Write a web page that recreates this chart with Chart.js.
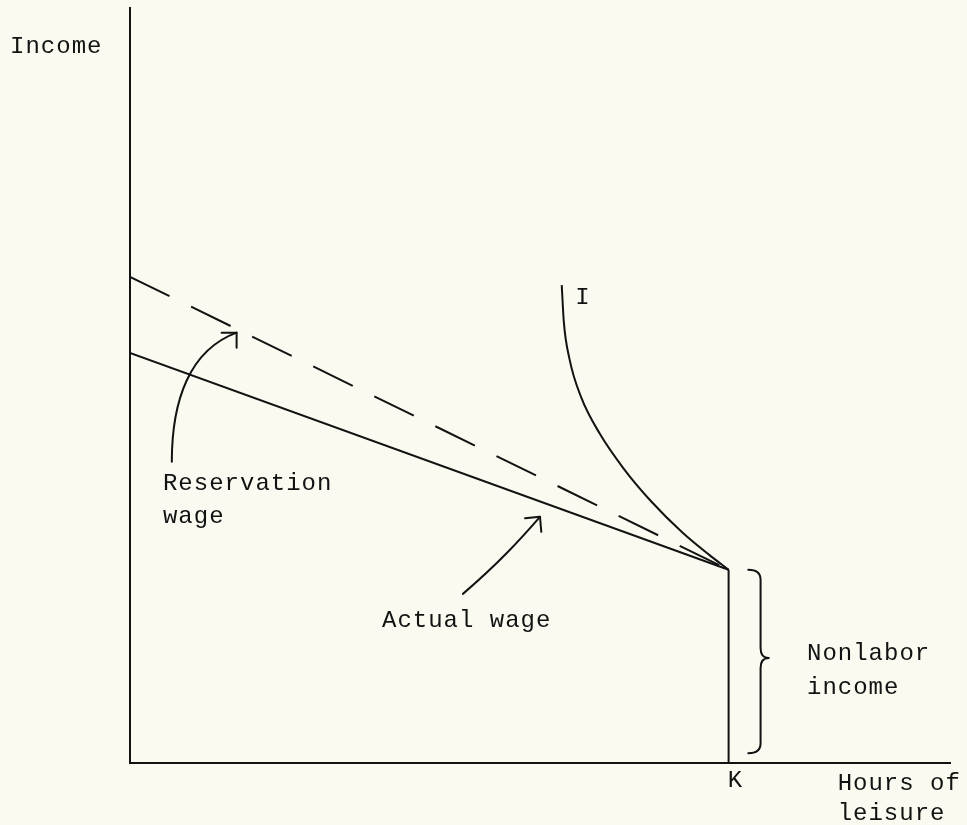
<!DOCTYPE html>
<html>
<head>
<meta charset="utf-8">
<script src="https://cdn.jsdelivr.net/npm/chart.js@4"></script>
<style>
  html, body { margin: 0; padding: 0; background: #fafaf1; }
  #wrap { width: 967px; height: 825px; }
</style>
</head>
<body>
<div id="wrap"><canvas id="leisureChart"></canvas></div>
<script>
// K = all hours taken as leisure, income there is nonlabor income only
const kHours = 73
const nonlaborIncome = 25.6

const reservationWageX = [0, kHours]
const reservationWageY = [64.4, nonlaborIncome]
const actualWageX = [0, kHours]
const actualWageY = [54.3, nonlaborIncome]

// indifference curve I
const curveX = [52.65, 52.9, 53.6, 55.0, 57.3, 60.2, 63.6, 67.4, 70.6, kHours]
const curveY = [63.3, 58.5, 53.5, 48.5, 43.6, 39.0, 34.6, 30.5, 27.6, nonlaborIncome]

// text labels (left edge, baseline) in data units
const labelText = ['Income', 'I', 'Reservation', 'wage', 'Actual wage', 'Nonlabor', 'income', 'K', 'Hours of', 'leisure']
const labelX = [-14.63, 54.3, 4.02, 4.02, 30.73, 82.56, 82.56, 72.9, 86.3, 86.3]
const labelY = [94.0, 60.8, 36.2, 31.8, 18.0, 13.6, 9.2, -3.2, -3.6, -7.6]

// pointer arrows: tail, control 1, control 2, head
const reservationArrow = [[5.1, 39.9], [5.1, 48.1], [7.3, 54.7], [13.0, 57.0]]
const actualArrow = [[40.6, 22.4], [45.0, 26.5], [47.5, 29.5], [50.0, 32.6]]
const arrowHeadAngle = [-45, -50]

// brace next to K: x of hooks, spine and tip, y of bottom and tip
const braceX = [75.4, 76.9, 77.9]
const braceY = [1.3, 13.9]

const toPoints = (xs, ys) => xs.map((x, i) => ({ x, y: ys[i] }))
const ink = '#121212'

const annotations = {
  id: 'annotations',
  afterDatasetsDraw (chart) {
    const ctx = chart.ctx
    const sx = chart.scales.x
    const sy = chart.scales.y
    const px = (v) => sx.getPixelForValue(v)
    const py = (v) => sy.getPixelForValue(v)

    ctx.save()
    ctx.strokeStyle = ink
    ctx.fillStyle = ink
    ctx.lineWidth = 2
    ctx.lineCap = 'round'
    ctx.lineJoin = 'round'

    // arrows
    ;[reservationArrow, actualArrow].forEach((a, i) => {
      ctx.beginPath()
      ctx.moveTo(px(a[0][0]), py(a[0][1]))
      ctx.bezierCurveTo(px(a[1][0]), py(a[1][1]), px(a[2][0]), py(a[2][1]), px(a[3][0]), py(a[3][1]))
      ctx.stroke()
      const hx = px(a[3][0])
      const hy = py(a[3][1])
      const back = (arrowHeadAngle[i] + 180) * Math.PI / 180
      ctx.beginPath()
      ctx.moveTo(hx + 15 * Math.cos(back - Math.PI / 4), hy + 15 * Math.sin(back - Math.PI / 4))
      ctx.lineTo(hx, hy)
      ctx.lineTo(hx + 15 * Math.cos(back + Math.PI / 4), hy + 15 * Math.sin(back + Math.PI / 4))
      ctx.stroke()
    })

    // brace
    const xl = px(braceX[0])
    const xm = px(braceX[1])
    const xt = px(braceX[2])
    const top = py(nonlaborIncome)
    const bot = py(braceY[0])
    const tip = py(braceY[1])
    ctx.beginPath()
    ctx.moveTo(xl, top)
    ctx.quadraticCurveTo(xm, top, xm, top + 10)
    ctx.lineTo(xm, tip - 10)
    ctx.quadraticCurveTo(xm, tip, xt, tip)
    ctx.quadraticCurveTo(xm, tip, xm, tip + 10)
    ctx.lineTo(xm, bot - 10)
    ctx.quadraticCurveTo(xm, bot, xl, bot)
    ctx.stroke()

    // labels
    ctx.font = '24px "Liberation Mono", "DejaVu Sans Mono", monospace'
    ctx.letterSpacing = '1px'
    ctx.textAlign = 'left'
    ctx.textBaseline = 'alphabetic'
    labelText.forEach((t, i) => {
      ctx.fillText(t, px(labelX[i]), py(labelY[i]))
    })
    ctx.restore()
  }
}

const axisOpts = (fit) => ({
  type: 'linear',
  min: 0,
  max: 100,
  grid: { display: false },
  ticks: { display: false },
  border: { display: true, color: ink, width: 2 },
  afterFit: fit
})

new Chart(document.getElementById('leisureChart'), {
  type: 'scatter',
  data: {
    datasets: [
      {
        label: 'Reservation wage',
        data: toPoints(reservationWageX, reservationWageY),
        showLine: true,
        borderColor: ink,
        borderWidth: 2,
        borderDash: [44, 24],
        pointRadius: 0
      },
      {
        label: 'Actual wage',
        data: toPoints(actualWageX, actualWageY),
        showLine: true,
        borderColor: ink,
        borderWidth: 2,
        pointRadius: 0
      },
      {
        label: 'I',
        data: toPoints(curveX, curveY),
        showLine: true,
        borderColor: ink,
        borderWidth: 2,
        cubicInterpolationMode: 'monotone',
        pointRadius: 0
      },
      {
        label: 'K',
        data: toPoints([kHours, kHours], [0, nonlaborIncome]),
        showLine: true,
        borderColor: ink,
        borderWidth: 2,
        pointRadius: 0
      }
    ]
  },
  options: {
    responsive: true,
    maintainAspectRatio: false,
    animation: false,
    layout: { padding: { left: 130, top: 8, right: 17, bottom: 62 } },
    plugins: {
      legend: { display: false },
      tooltip: { enabled: false }
    },
    scales: {
      x: axisOpts((s) => { s.height = 0 }),
      y: axisOpts((s) => { s.width = 0 })
    }
  },
  plugins: [annotations]
})
</script>
</body>
</html>
